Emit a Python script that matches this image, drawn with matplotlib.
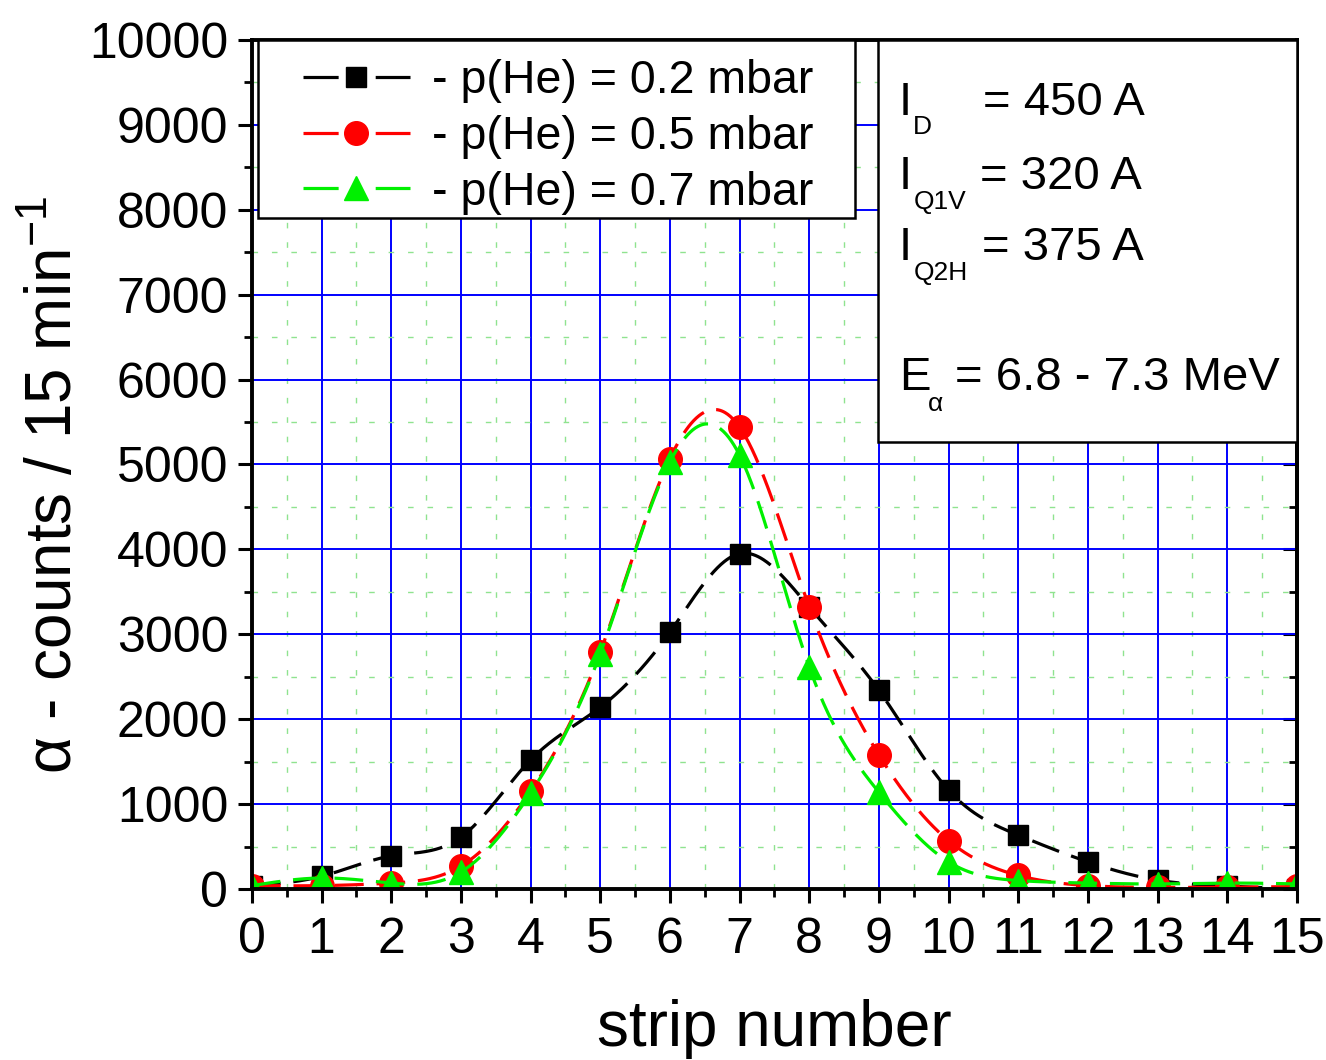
import numpy as np
import matplotlib
matplotlib.use("Agg")
import matplotlib.pyplot as plt
from matplotlib.lines import Line2D
from matplotlib.patches import Rectangle
from matplotlib.ticker import MultipleLocator

plt.rcParams['font.family'] = ['Liberation Sans', 'DejaVu Sans']
plt.rcParams['mathtext.fontset'] = 'custom'
plt.rcParams['mathtext.rm'] = 'Liberation Sans'
plt.rcParams['mathtext.it'] = 'Liberation Sans'

# strip number and alpha counts per 15 min for three helium pressures
strips = np.arange(16)
counts_02 = [40, 150, 390, 610, 1520, 2140, 3025, 3950, 3320, 2340, 1165, 635, 320, 105, 35, 0]
counts_05 = [40, 40, 70, 270, 1150, 2790, 5070, 5440, 3322, 1580, 570, 160, 40, 20, 20, 30]
counts_07 = [40, 130, 70, 200, 1130, 2770, 5030, 5110, 2615, 1140, 320, 100, 70, 60, 70, 60]
series_labels = ["- p(He) = 0.2 mbar", "- p(He) = 0.5 mbar", "- p(He) = 0.7 mbar"]
x_ticks = list(range(16))


def natural_spline(x, y, xs):
    x = np.asarray(x, float)
    y = np.asarray(y, float)
    n = len(x)
    h = np.diff(x)
    A = np.zeros((n, n))
    r = np.zeros(n)
    A[0, 0] = A[-1, -1] = 1.0
    for i in range(1, n - 1):
        A[i, i - 1] = h[i - 1]
        A[i, i] = 2 * (h[i - 1] + h[i])
        A[i, i + 1] = h[i]
        r[i] = 3 * ((y[i + 1] - y[i]) / h[i] - (y[i] - y[i - 1]) / h[i - 1])
    c = np.linalg.solve(A, r)
    b = (y[1:] - y[:-1]) / h - h * (2 * c[:-1] + c[1:]) / 3
    d = (c[1:] - c[:-1]) / (3 * h)
    idx = np.clip(np.searchsorted(x, xs) - 1, 0, n - 2)
    dx = xs - x[idx]
    return y[idx] + b[idx] * dx + c[idx] * dx ** 2 + d[idx] * dx ** 3


fig = plt.figure(figsize=(13.26, 10.6), dpi=100)
ax = fig.add_axes([0.190, 0.1613, 0.788, 0.8010])

styles = [
    dict(color='black', marker='s', ms=15),
    dict(color='#ff0000', marker='o', ms=17),
    dict(color='#00f000', marker='^', ms=17),
]
lw = 2.3
dash = (0, (9, 4))
xs = np.linspace(0, 15, 1200)
handles = []
for vals, st, lab, z in zip([counts_02, counts_05, counts_07], styles, series_labels, [3, 4, 5]):
    ys = natural_spline(strips, vals, xs)
    ax.plot(xs, ys, color=st['color'], lw=lw, linestyle=dash, zorder=z)
    ax.plot(strips, vals, linestyle='none', marker=st['marker'], ms=st['ms'],
            color=st['color'], mec=st['color'], zorder=z + 0.5)
    handles.append(Line2D([], [], color=st['color'], lw=lw, linestyle=(0, (11, 11.6)),
                          marker=st['marker'], ms=st['ms'], mec=st['color'], label=lab))

ax.set_xlim(0, 15)
ax.set_ylim(0, 10000)
ax.set_xticks(x_ticks)
ax.xaxis.set_minor_locator(MultipleLocator(0.5))
ax.yaxis.set_major_locator(MultipleLocator(1000))
ax.yaxis.set_minor_locator(MultipleLocator(500))

ax.grid(which='major', color='#0000ff', lw=1.4, zorder=1)
ax.grid(which='minor', color='#8fe38f', lw=1.0, linestyle=(0, (4, 10)), zorder=0.5)
ax.set_axisbelow(True)

for s in ax.spines.values():
    s.set_linewidth(2.8)
    s.set_zorder(8)

ax.tick_params(which='major', direction='out', length=10, width=2.2, labelsize=36,
               top=False, right=False)
ax.tick_params(which='minor', direction='out', length=6, width=2.0, top=False, right=False)
ax.tick_params(axis='x', which='major', pad=10)
ax.tick_params(axis='y', which='major', pad=7)

# inward ticks along the right-hand frame
right = ax.secondary_yaxis('right')
right.yaxis.set_major_locator(MultipleLocator(1000))
right.yaxis.set_minor_locator(MultipleLocator(500))
right.tick_params(which='major', direction='in', length=10, width=2.2, labelright=False)
right.tick_params(which='minor', direction='in', length=6, width=2.0)
right.spines['right'].set_linewidth(2.8)

ax.set_xlabel("strip number", fontsize=46)
ax.set_ylabel(r"α - counts / 15 min$^{\mathregular{-1}}$", fontsize=46)
ax.xaxis.set_label_coords(0.5, -0.129)
ax.yaxis.set_label_coords(-0.160, 0.476)

# legend frame and entries
leg_frame = Rectangle((0.0057, 0.7903), 0.5713, 0.2097, transform=ax.transAxes,
                      facecolor='white', edgecolor='black', lw=1.8, zorder=9)
ax.add_patch(leg_frame)
leg = ax.legend(handles=handles, loc='upper left', bbox_to_anchor=(0.0488, 0.977),
                fontsize=33.5, frameon=False, borderpad=0, handlelength=2.3,
                handletextpad=0.47, labelspacing=0.25, borderaxespad=0, numpoints=1)
leg.set_zorder(10)

# parameter box on the upper right
box = Rectangle((0.599, 0.5265), 0.401, 0.4735, transform=ax.transAxes,
                facecolor='white', edgecolor='black', lw=1.8, zorder=9)
ax.add_patch(box)

main_fs = 34
sub_fs = 19
rows = [
    ("I", "D", "= 450 A", 0.926, 0.700),
    ("I", "Q1V", "= 320 A", 0.8386, 0.697),
    ("I", "Q2H", "= 375 A", 0.755, 0.699),
]
for sym, sub, rhs, yy, xr in rows:
    ax.text(0.619, yy, sym, transform=ax.transAxes, fontsize=main_fs,
            ha='left', va='center', zorder=11)
    ax.text(0.633, yy - 0.029, sub, transform=ax.transAxes, fontsize=sub_fs,
            ha='left', va='center', zorder=11)
    ax.text(xr, yy, rhs, transform=ax.transAxes, fontsize=main_fs,
            ha='left', va='center', zorder=11)

ax.text(0.619, 0.602, "E", transform=ax.transAxes, fontsize=main_fs,
        ha='left', va='center', zorder=11)
ax.text(0.647, 0.571, "α", transform=ax.transAxes, fontsize=sub_fs,
        ha='left', va='center', zorder=11)
ax.text(0.673, 0.602, "= 6.8 - 7.3 MeV", transform=ax.transAxes, fontsize=main_fs,
        ha='left', va='center', zorder=11)

fig.savefig("out.png", dpi=100)
